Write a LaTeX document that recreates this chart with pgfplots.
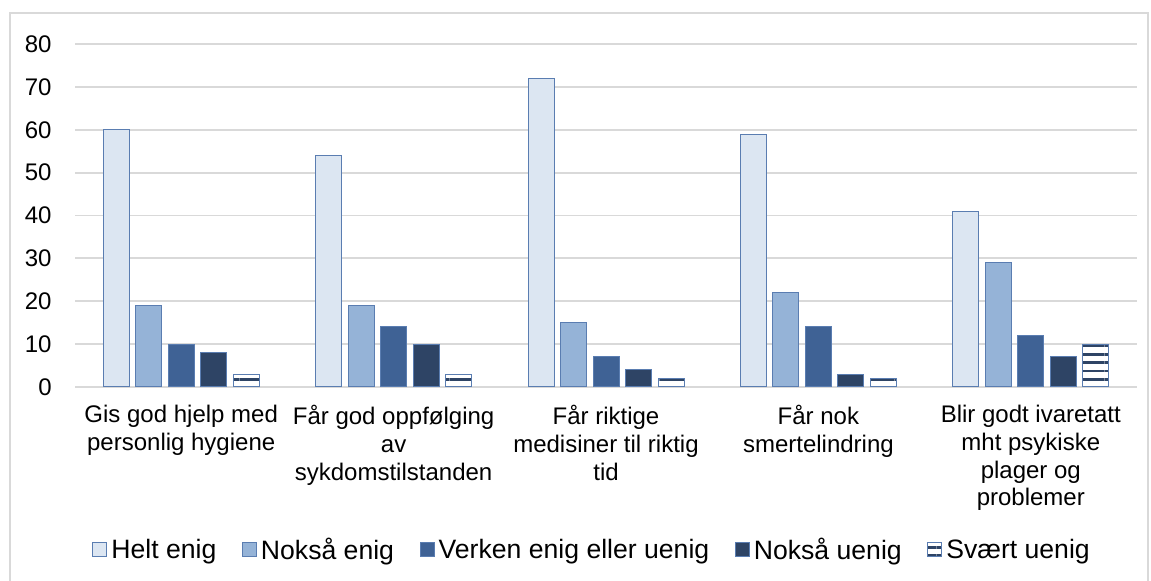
\documentclass[border=0pt]{standalone}
\usepackage{pgfplots}
\pgfplotsset{compat=1.18}
\usetikzlibrary{patterns.meta}
\usepackage{fontspec}
\setmainfont{Liberation Sans}
\definecolor{c1}{HTML}{DCE6F2}
\definecolor{c2}{HTML}{95B3D7}
\definecolor{c3}{HTML}{3F6295}
\definecolor{c4}{HTML}{2E4465}
\definecolor{edge}{HTML}{5A7DB1}
\definecolor{gridgray}{HTML}{D9D9D9}
\begin{document}
\begin{tikzpicture}
\path[use as bounding box] (0,0) rectangle (575.5pt,290.5pt);
\draw[gridgray, line width=0.6pt] (5pt,-5pt) -- (5pt,284pt) -- (574pt,284pt) -- (574pt,-5pt);
\begin{axis}[
  at={(37.5pt,97pt)}, anchor=south west,
  scale only axis, width=531pt, height=171.5pt,
  ybar=3.25pt, bar width=13pt,
  xmin=-0.5, xmax=4.5, ymin=0, ymax=80,
  ytick={0,10,...,80},
  xtick={0,1,2,3,4},
  xticklabels={{Gis god hjelp med\\personlig hygiene},{Får god oppfølging\\av\\sykdomstilstanden},{Får riktige\\medisiner til riktig\\tid},{Får nok\\smertelindring},{Blir godt ivaretatt\\mht psykiske\\plager og\\problemer}},
  xticklabel style={align=center, anchor=north, inner sep=0pt, yshift=-9pt, font=\fontsize{12}{13.85}\selectfont},
  yticklabel style={anchor=east, inner sep=0pt, xshift=-11.5pt, font=\fontsize{12}{14}\selectfont},
  /pgf/number format/assume math mode=true,
  ymajorgrids, grid style={color=gridgray, line width=0.9pt},
  axis line style={draw=none},
  major tick length=0pt,
  legend image code/.code={\draw[#1] (0pt,-3.5pt) rectangle (7pt,3.5pt);},
  legend columns=5,
  legend style={at={(axis description cs:0,0)}, anchor=west, xshift=5.5pt, yshift=-81.5pt,
    draw=none, fill=none, font=\fontsize{13.3}{16}\selectfont,
    nodes={inner sep=2pt},
    /tikz/every even column/.append style={column sep=10.8pt}},
]
\addplot[fill=c1, draw=edge, line width=0.5pt] coordinates {(0,60) (1,54) (2,72) (3,59) (4,41)};
\addplot[fill=c2, draw=edge, line width=0.5pt] coordinates {(0,19) (1,19) (2,15) (3,22) (4,29)};
\addplot[fill=c3, draw=edge, line width=0.5pt] coordinates {(0,10) (1,14) (2,7) (3,14) (4,12)};
\addplot[fill=c4, draw=edge, line width=0.5pt] coordinates {(0,8) (1,10) (2,4) (3,3) (4,7)};
\addplot[fill=white, postaction={pattern={Lines[angle=0,distance=4.2pt,line width=1.35pt]}, pattern color=c4}, draw=edge, line width=0.5pt] coordinates {(0,3) (1,3) (2,2) (3,2) (4,10)};
\legend{Helt enig, Nokså enig, Verken enig eller uenig, Nokså uenig, Svært uenig}
\end{axis}
\end{tikzpicture}
\end{document}
